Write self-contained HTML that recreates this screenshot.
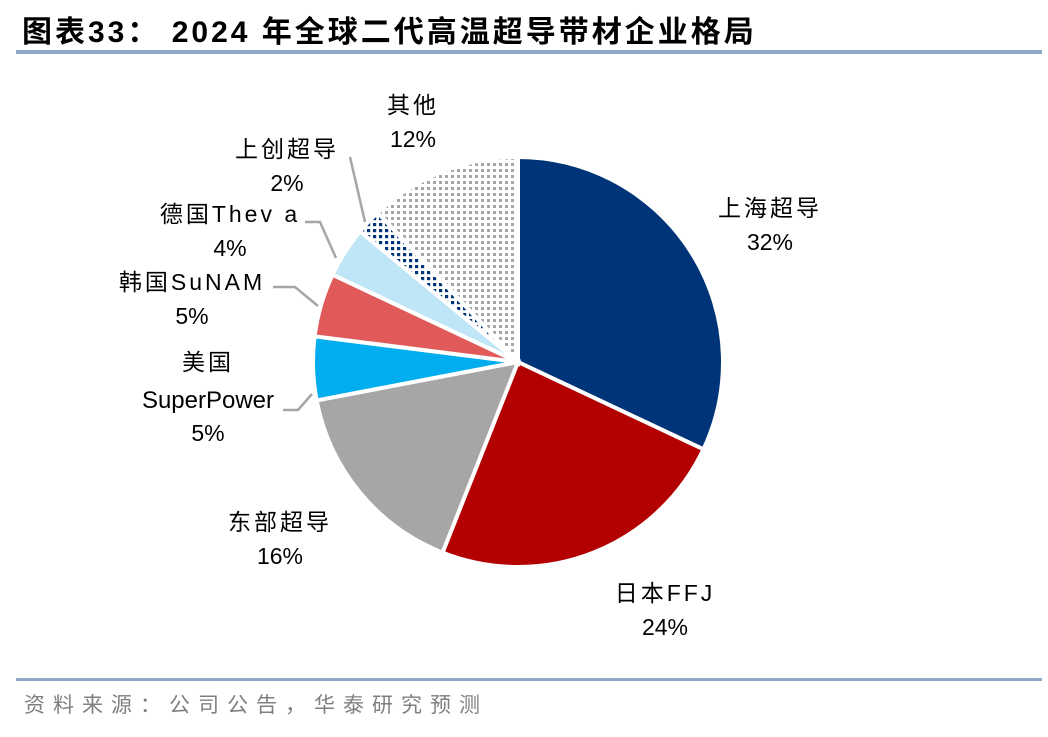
<!DOCTYPE html>
<html><head><meta charset="utf-8"><style>
body{margin:0;background:#fff;width:1048px;height:732px;overflow:hidden;font-family:"Liberation Sans","Noto Sans CJK SC",sans-serif}
svg text{font-family:"Liberation Sans","Noto Sans CJK SC",sans-serif}
</style></head><body>
<svg width="1048" height="732">
<defs>
<pattern id="pg" width="6" height="6" patternUnits="userSpaceOnUse"><rect width="6" height="6" fill="#fff"/><rect x="1" y="1" width="3" height="3" fill="#a6a6a6"/></pattern>
<pattern id="pn" width="6" height="6" patternUnits="userSpaceOnUse"><rect width="6" height="6" fill="#fff"/><rect x="1" y="1" width="3.2" height="3.2" fill="#003478"/></pattern>
</defs>
<text x="22" y="42" font-size="30" font-weight="bold" fill="#000" letter-spacing="3">图表33：  2024 年全球二代高温超导带材企业格局</text>
<rect x="16" y="50" width="1026" height="4" fill="#8ea9c8"/>
<g id="pie"></g>
<g id="labels"></g>
<rect x="16" y="678" width="1026" height="3" fill="#8ea9c8"/>
<text x="24" y="712" font-size="21" fill="#7f7f7f" letter-spacing="8">资料来源：公司公告，华泰研究预测</text>
</svg>
<script>
const categories=["上海超导","日本FFJ","东部超导","美国SuperPower","韩国SuNAM","德国Thev a","上创超导","其他"];
const values=[32,24,16,5,5,4,2,12];
const colors=["#003478","#b30000","#a6a6a6","#00aeef","#e05a5a","#bfe6f7","url(#pn)","url(#pg)"];
const cx=518,cy=362,R=205;
const ns="http://www.w3.org/2000/svg";
const pie=document.getElementById('pie');
const total=values.reduce((a,b)=>a+b,0);
let a0=0;
values.forEach((v,i)=>{
  const a1=a0+v/total*2*Math.PI;
  const p=t=>[cx+R*Math.sin(t),cy-R*Math.cos(t)];
  const s=p(a0),e=p(a1);
  const path=document.createElementNS(ns,'path');
  path.setAttribute('d',`M${cx},${cy}L${s[0]},${s[1]}A${R},${R} 0 ${a1-a0>Math.PI?1:0} 1 ${e[0]},${e[1]}Z`);
  path.setAttribute('fill',colors[i]);
  path.setAttribute('stroke','#fff');
  path.setAttribute('stroke-width','4');
  
  
  pie.appendChild(path);
  a0=a1;
});
const lab=document.getElementById('labels');
const L=[[770,216,"上海超导",0],[665,601,"日本FFJ",1],[280,530,"东部超导",2],[208,370,"美国",3],[192,290,"韩国SuNAM",4],[230,222,"德国Thev a",5],[287,157,"上创超导",6],[413,113,"其他",7]];
L.forEach(l=>{
  const t=document.createElementNS(ns,'text');
  t.setAttribute('x',l[0]);t.setAttribute('y',l[1]);
  t.setAttribute('text-anchor','middle');t.setAttribute('font-size','23');
  t.setAttribute('letter-spacing','3');
  
  
  let y2=l[1]+34;
  if(l[3]==3){const ts=document.createElementNS(ns,'tspan');ts.setAttribute('x',l[0]);ts.setAttribute('dy','0');ts.textContent=l[2];t.appendChild(ts);
    const t2=document.createElementNS(ns,'tspan');t2.setAttribute('x',l[0]);t2.setAttribute('dy','38');t2.setAttribute('letter-spacing','0');t2.setAttribute('font-size','24');t2.textContent="SuperPower";t.appendChild(t2);y2=l[1]+71;}
  else t.textContent=l[2];
  lab.appendChild(t);
  const p=document.createElementNS(ns,'text');
  p.setAttribute('x',l[0]);p.setAttribute('y',y2);
  p.setAttribute('text-anchor','middle');p.setAttribute('font-size','23');
  
  
  p.textContent=values[l[3]]+'%';
  lab.appendChild(p);
});
const lines=[[[283,410],[298,410],[312,394]],[[273,287],[295,287],[318,306]],[[305,222],[320,222],[336,258]],[[350,157],[365,222]]];
lines.forEach((pts,i)=>{
  const pl=document.createElementNS(ns,'polyline');
  pl.setAttribute('points',pts.map(p=>p.join(',')).join(' '));
  pl.setAttribute('fill','none');pl.setAttribute('stroke','#a6a6a6');pl.setAttribute('stroke-width','2.5');
  
  
  lab.appendChild(pl);
});
</script>
</body></html>
